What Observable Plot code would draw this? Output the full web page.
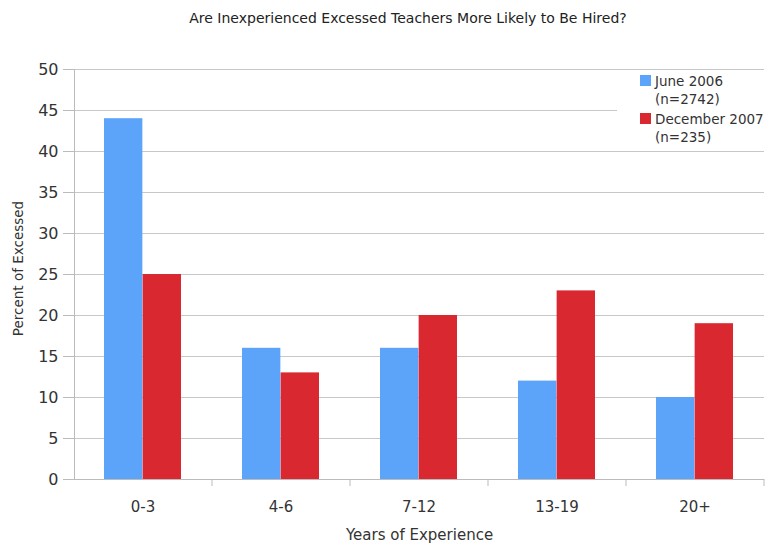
<!DOCTYPE html>
<html>
<head>
<meta charset="utf-8">
<script src="https://cdn.jsdelivr.net/npm/d3@7"></script>
<script src="https://cdn.jsdelivr.net/npm/@observablehq/plot@0.6"></script>
<style>
  body { margin: 0; background: #fff; font-family: "DejaVu Sans", Verdana, sans-serif; }
  #wrap { position: relative; width: 774px; height: 548px; overflow: hidden; }
  #title { height: 36px; line-height: 36px; font-size: 14px; color: #222; text-align: center; padding-left: 42px; box-sizing: border-box; }
  #legend { position: absolute; left: 617px; top: 72px; width: 170px; background: #fff; font-size: 13.5px; color: #333; line-height: 18px; }
  .item { position: relative; padding-left: 22px; }
  .sw { position: absolute; left: 23px; top: 3px; width: 11px; height: 11px; }
  .item span.t { display: block; padding-left: 16px; white-space: nowrap; }
</style>
</head>
<body>
<div id="wrap">
  <div id="title">Are Inexperienced Excessed Teachers More Likely to Be Hired?</div>
  <div id="chart"></div>
  <div id="legend"></div>
</div>
<script>
const categories = ["0-3", "4-6", "7-12", "13-19", "20+"];
const seriesNames = ["June 2006", "December 2007"];
const seriesNotes = ["(n=2742)", "(n=235)"];
const june2006 = [44, 16, 16, 12, 10];
const december2007 = [25, 13, 20, 23, 19];
const yTicks = [0, 5, 10, 15, 20, 25, 30, 35, 40, 45, 50];
const colors = ["#5ba4fa", "#d9282f"];

const juneData = categories.map((c, i) => ({cat: c, value: june2006[i]}));
const decData = categories.map((c, i) => ({cat: c, value: december2007[i]}));

const W = 774, H = 512, mL = 74, mR = 10;
const step = (W - mL - mR) / categories.length;
const pad = 0.44;
const bw = step * (1 - pad);

const chart = Plot.plot({
  width: W,
  height: H,
  marginLeft: mL,
  marginRight: mR,
  marginTop: 33,
  marginBottom: 69,
  style: {fontFamily: "DejaVu Sans, Verdana, sans-serif", fontSize: "15px", color: "#333", background: "#fff"},
  x: {domain: categories, paddingInner: pad, paddingOuter: pad / 2, align: 0.5, label: null},
  y: {domain: [0, 50], ticks: yTicks, label: null},
  marks: [
    Plot.gridY(yTicks, {stroke: "#c8c8c8", strokeOpacity: 1}),
    Plot.barY(juneData, {x: "cat", y: "value", fill: colors[0], insetRight: bw / 2}),
    Plot.barY(decData, {x: "cat", y: "value", fill: colors[1], insetLeft: bw / 2}),
    Plot.axisY(yTicks, {tickSize: 11, stroke: "#bbb", fill: "#333", fontSize: 16, tickPadding: 5, label: null}),
    Plot.axisX({tickSize: 0, tickPadding: 22, fontSize: 15, fill: "#333", label: null}),
    Plot.axisX({tickSize: 7, dx: step / 2, stroke: "#bbb", text: null, label: null}),
    Plot.ruleY([0], {stroke: "#bbb"}),
    Plot.frame({anchor: "left", stroke: "#bbb"}),
    Plot.text(["Years of Experience"], {frameAnchor: "bottom", dy: 60, fontSize: 15, fill: "#333"}),
    Plot.text(["Percent of Excessed"], {frameAnchor: "left", textAnchor: "middle", dx: -56, dy: -6, rotate: -90, fontSize: 13.5, fill: "#333"})
  ]
});
document.getElementById("chart").appendChild(chart);

const legend = document.getElementById("legend");
seriesNames.forEach((name, i) => {
  const item = document.createElement("div");
  item.className = "item";
  item.style.marginBottom = "2px";
  item.innerHTML = `<div class="sw" style="background:${colors[i]}"></div><span class="t">${name}</span><span class="t">${seriesNotes[i]}</span>`;
  legend.appendChild(item);
});
</script>
</body>
</html>
